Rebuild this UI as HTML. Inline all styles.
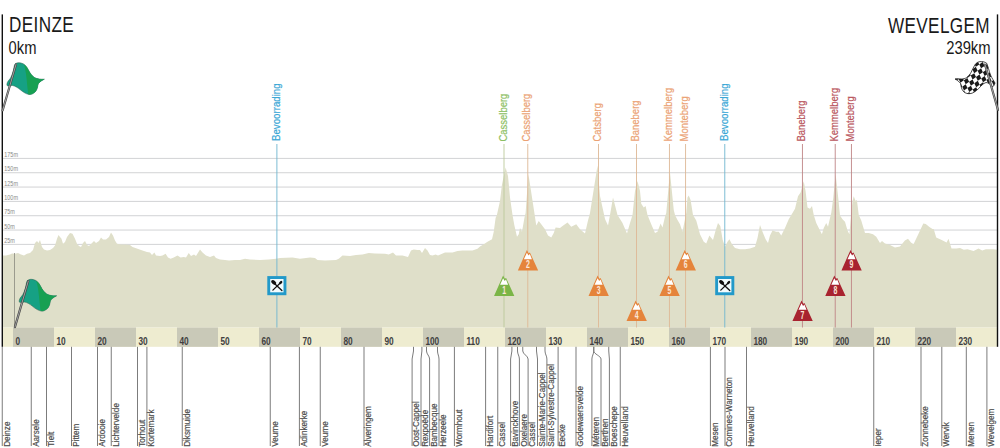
<!DOCTYPE html><html><head><meta charset="utf-8"><style>html,body{margin:0;padding:0;background:#fff;width:1000px;height:448px;overflow:hidden}svg{display:block}text{font-family:"Liberation Sans",sans-serif}</style></head><body>
<svg width="1000" height="448" viewBox="0 0 1000 448">
<rect width="1000" height="448" fill="#fff"/>
<rect x="3" y="157.9" width="994" height="1" fill="#d2d3d5"/>
<text transform="translate(4.3,157) scale(0.84,1)" font-size="6.5" fill="#8a8a8a">175m</text>
<rect x="3" y="172.23" width="994" height="1" fill="#d2d3d5"/>
<text transform="translate(4.3,171.33) scale(0.84,1)" font-size="6.5" fill="#8a8a8a">150m</text>
<rect x="3" y="186.56" width="994" height="1" fill="#d2d3d5"/>
<text transform="translate(4.3,185.66) scale(0.84,1)" font-size="6.5" fill="#8a8a8a">125m</text>
<rect x="3" y="200.89" width="994" height="1" fill="#d2d3d5"/>
<text transform="translate(4.3,199.99) scale(0.84,1)" font-size="6.5" fill="#8a8a8a">100m</text>
<rect x="3" y="215.22" width="994" height="1" fill="#d2d3d5"/>
<text transform="translate(4.3,214.32) scale(0.84,1)" font-size="6.5" fill="#8a8a8a">75m</text>
<rect x="3" y="229.55" width="994" height="1" fill="#d2d3d5"/>
<text transform="translate(4.3,228.65) scale(0.84,1)" font-size="6.5" fill="#8a8a8a">50m</text>
<rect x="3" y="243.88" width="994" height="1" fill="#d2d3d5"/>
<text transform="translate(4.3,242.98) scale(0.84,1)" font-size="6.5" fill="#8a8a8a">25m</text>
<polygon points="3,327.5 3,255.6 6,255.6 10,254.4 12,253.5 15,253.75 18,253 21,254.4 24,255.6 27,253.75 30,253 33,250 35,243 37,241 38.5,243 40,240 42,247 44,249.4 47,250.6 50,250 53,248 55,245.6 57,238.75 58.5,235 60,237 61.5,238.75 63,243.75 65,242 67,237 70,233 72.5,233.75 75,238.75 77,243.75 79,246 81,247 83,243 85,241 87,245 89,246 91,244 94,241 96,243 99,241 101,237.5 103,239.4 106,239.4 109,237 111,232.5 113,235.6 115,240.6 117,243.75 121,244.4 125,244.4 130,245 132.5,247 137.5,248.75 141,250 142.5,250.6 147,252 150,252.5 152,255 154.4,252.5 156,255.6 160,256 162.5,255.6 165.6,253.75 168,257.5 170.6,258.75 173.75,257.5 177.5,255.6 180.6,257.5 183.75,256.9 186,257.5 188.75,253 191,256 194,254.4 196,256 200,249.4 202.5,252.5 206,255.6 210,257 214,255.6 216,258 220,259.4 225,260 229,260.6 235,260 240,260 245,258.75 250,259.4 260,260 268.75,259.4 276,258.75 280,258 292.5,257.5 300,258.75 310,257.5 315,258 317.5,260 325,260.6 336,260 338.75,258.75 342.5,255.6 350,256 356,255 362.5,254.4 368.75,253 375,253.5 385,253.75 388.75,254.4 393,252.5 396,255.6 402.5,255.6 408,257 411,250.6 413.75,249.4 417.5,250 420,250 422,253 425,248 427.5,250.6 430,255 432.5,255.6 435.6,254.4 438,255.6 445,252.5 452.5,252.5 457.5,251 462.5,250.6 468.75,250.6 472.5,250.6 477.5,248.75 480,246.5 483.75,244.25 487.5,241.75 492,239.25 493.75,231.75 495.6,218 496.9,215 500,201 501.9,185 505.6,167.5 508,176 510,197.5 512.5,215 514.4,225.5 517,236.75 518.75,234.25 520,228 522,231.75 524.4,218 525.6,213 528.4,174 534.4,213 536.25,225.5 538.75,221 541.25,224.25 545,229.25 548,235.5 551.25,237.4 553.75,233 555.6,227.4 560,228 562.5,226 567.5,222.4 571.25,226.75 576.25,224.25 580,229.25 585,233.6 588,220.5 590,213 597.5,165.6 600,196 602.5,207.5 605,219 608,225.5 610,215 613,197.5 617.5,215 622.5,223 627,233.6 630,223 632.5,215 635,191 637.5,181 640,191 641.25,203.75 643.75,207.5 645.6,206 647.5,215 651.25,224.25 655,233 657.5,231.75 660.6,223.6 662.5,227.4 665,216.75 666.25,213 668.75,185 670,172.5 671.25,185 673.75,210 675,215 677.5,220 680,224.25 682.5,231.75 685,219 686.25,213 687.5,197.5 688.75,195.6 690.6,200 693,215 696.25,220.5 700,234.25 703.75,241.75 706.25,243.6 709.4,235.5 713,240 715.6,230.5 718,223 720.3,226 722.7,240 725,246.75 727.5,241.75 729.4,239.25 732,244.25 735,248 740,249.25 745,249.25 750,248.6 755,246.75 757.5,238 760,224.9 762.5,231.75 765.6,239.25 768,243 770,235.5 772.5,230.5 776.25,231.75 778.75,231.75 781.25,235.5 785,228 788.75,219.25 792.5,213 795,208.75 798,196.25 800.6,192.5 803.75,181.25 805.6,191.25 807.5,207.5 810,208.75 812,206 813.75,215 816.25,223 820,230.5 821.9,234.25 823.75,228 826.25,223 828,226.75 830,218 831.25,213 833.3,197.5 835.6,174 838.2,197.5 840,215.5 842.5,219.25 845,221.75 847.5,230.5 849.4,234.25 851.25,213 852.5,201 853.75,196.25 855.6,201 856.9,200 858.75,215 861.25,220.5 865,233 868.75,233 873,234.25 876.25,236.75 880,243 882,241 885,243.6 890,244.9 895,247.4 900,246.5 904.9,240.6 908,238.7 911,242.4 913.5,244.3 918.4,233.9 923.3,223.4 925.8,224 929.4,227.1 932.5,229 933.7,229 936.2,237.5 941.7,240 946.6,242.4 948.5,238.8 951.5,248.6 956.4,248.6 960,248 963.8,249.8 967.5,249.2 973.6,251 978.5,248.6 982.2,250.4 985.9,249.2 993.3,249.2 997,249.8 997,327.5" fill="#dfdfc9"/>
<rect x="3" y="327.5" width="994" height="19.3" fill="#eeecd0"/>
<rect x="13" y="327.5" width="41" height="19.3" fill="#c9c9b8"/>
<rect x="95" y="327.5" width="41" height="19.3" fill="#c9c9b8"/>
<rect x="177" y="327.5" width="41" height="19.3" fill="#c9c9b8"/>
<rect x="259" y="327.5" width="41" height="19.3" fill="#c9c9b8"/>
<rect x="341" y="327.5" width="41" height="19.3" fill="#c9c9b8"/>
<rect x="423" y="327.5" width="41" height="19.3" fill="#c9c9b8"/>
<rect x="505" y="327.5" width="41" height="19.3" fill="#c9c9b8"/>
<rect x="587" y="327.5" width="41" height="19.3" fill="#c9c9b8"/>
<rect x="669" y="327.5" width="41" height="19.3" fill="#c9c9b8"/>
<rect x="751" y="327.5" width="41" height="19.3" fill="#c9c9b8"/>
<rect x="833" y="327.5" width="41" height="19.3" fill="#c9c9b8"/>
<rect x="915" y="327.5" width="41" height="19.3" fill="#c9c9b8"/>
<text transform="translate(15.4,345) scale(0.74,1)" font-size="11.2" font-weight="bold" fill="#404040">0</text>
<text transform="translate(56.4,345) scale(0.74,1)" font-size="11.2" font-weight="bold" fill="#404040">10</text>
<text transform="translate(97.4,345) scale(0.74,1)" font-size="11.2" font-weight="bold" fill="#404040">20</text>
<text transform="translate(138.4,345) scale(0.74,1)" font-size="11.2" font-weight="bold" fill="#404040">30</text>
<text transform="translate(179.4,345) scale(0.74,1)" font-size="11.2" font-weight="bold" fill="#404040">40</text>
<text transform="translate(220.4,345) scale(0.74,1)" font-size="11.2" font-weight="bold" fill="#404040">50</text>
<text transform="translate(261.4,345) scale(0.74,1)" font-size="11.2" font-weight="bold" fill="#404040">60</text>
<text transform="translate(302.4,345) scale(0.74,1)" font-size="11.2" font-weight="bold" fill="#404040">70</text>
<text transform="translate(343.4,345) scale(0.74,1)" font-size="11.2" font-weight="bold" fill="#404040">80</text>
<text transform="translate(384.4,345) scale(0.74,1)" font-size="11.2" font-weight="bold" fill="#404040">90</text>
<text transform="translate(425.4,345) scale(0.74,1)" font-size="11.2" font-weight="bold" fill="#404040">100</text>
<text transform="translate(466.4,345) scale(0.74,1)" font-size="11.2" font-weight="bold" fill="#404040">110</text>
<text transform="translate(507.4,345) scale(0.74,1)" font-size="11.2" font-weight="bold" fill="#404040">120</text>
<text transform="translate(548.4,345) scale(0.74,1)" font-size="11.2" font-weight="bold" fill="#404040">130</text>
<text transform="translate(589.4,345) scale(0.74,1)" font-size="11.2" font-weight="bold" fill="#404040">140</text>
<text transform="translate(630.4,345) scale(0.74,1)" font-size="11.2" font-weight="bold" fill="#404040">150</text>
<text transform="translate(671.4,345) scale(0.74,1)" font-size="11.2" font-weight="bold" fill="#404040">160</text>
<text transform="translate(712.4,345) scale(0.74,1)" font-size="11.2" font-weight="bold" fill="#404040">170</text>
<text transform="translate(753.4,345) scale(0.74,1)" font-size="11.2" font-weight="bold" fill="#404040">180</text>
<text transform="translate(794.4,345) scale(0.74,1)" font-size="11.2" font-weight="bold" fill="#404040">190</text>
<text transform="translate(835.4,345) scale(0.74,1)" font-size="11.2" font-weight="bold" fill="#404040">200</text>
<text transform="translate(876.4,345) scale(0.74,1)" font-size="11.2" font-weight="bold" fill="#404040">210</text>
<text transform="translate(917.4,345) scale(0.74,1)" font-size="11.2" font-weight="bold" fill="#404040">220</text>
<text transform="translate(958.4,345) scale(0.74,1)" font-size="11.2" font-weight="bold" fill="#404040">230</text>
<rect x="14" y="253" width="0.8" height="74.5" fill="#8a8a80"/>
<rect x="276.45" y="144" width="0.9" height="183.5" fill="#6fb6d0"/>
<text transform="translate(279.9,141) rotate(-90) scale(0.95,1)" font-size="10.2" fill="#3aa7d6" stroke="#3aa7d6" stroke-width="0.2">Bevoorrading</text>
<rect x="724.35" y="144" width="0.9" height="183.5" fill="#6fb6d0"/>
<text transform="translate(727.8,141) rotate(-90) scale(0.95,1)" font-size="10.2" fill="#3aa7d6" stroke="#3aa7d6" stroke-width="0.2">Bevoorrading</text>
<rect x="503.55" y="144" width="0.9" height="183.5" fill="#bccb9c"/>
<text transform="translate(506.6,141.5) rotate(-90) scale(0.93,1)" font-size="10.2" stroke="#8cc063" stroke-width="0.2" fill="#8cc063">Casselberg</text>
<rect x="527.35" y="144" width="0.9" height="183.5" fill="#deb896"/>
<text transform="translate(530.4,141.5) rotate(-90) scale(0.93,1)" font-size="10.2" stroke="#eba273" stroke-width="0.2" fill="#eba273">Casselberg</text>
<rect x="598.05" y="144" width="0.9" height="183.5" fill="#deb896"/>
<text transform="translate(601.1,141.5) rotate(-90) scale(0.93,1)" font-size="10.2" stroke="#eba273" stroke-width="0.2" fill="#eba273">Catsberg</text>
<rect x="636.05" y="144" width="0.9" height="183.5" fill="#deb896"/>
<text transform="translate(639.1,141.5) rotate(-90) scale(0.93,1)" font-size="10.2" stroke="#eba273" stroke-width="0.2" fill="#eba273">Baneberg</text>
<rect x="668.95" y="144" width="0.9" height="183.5" fill="#deb896"/>
<text transform="translate(672,141.5) rotate(-90) scale(0.93,1)" font-size="10.2" stroke="#eba273" stroke-width="0.2" fill="#eba273">Kemmelberg</text>
<rect x="685.15" y="144" width="0.9" height="183.5" fill="#deb896"/>
<text transform="translate(688.2,141.5) rotate(-90) scale(0.93,1)" font-size="10.2" stroke="#eba273" stroke-width="0.2" fill="#eba273">Monteberg</text>
<rect x="801.95" y="144" width="0.9" height="183.5" fill="#bf8586"/>
<text transform="translate(805,141.5) rotate(-90) scale(0.93,1)" font-size="10.2" stroke="#b9545c" stroke-width="0.2" fill="#b9545c">Baneberg</text>
<rect x="834.75" y="144" width="0.9" height="183.5" fill="#bf8586"/>
<text transform="translate(837.8,141.5) rotate(-90) scale(0.93,1)" font-size="10.2" stroke="#b9545c" stroke-width="0.2" fill="#b9545c">Kemmelberg</text>
<rect x="850.95" y="144" width="0.9" height="183.5" fill="#bf8586"/>
<text transform="translate(854,141.5) rotate(-90) scale(0.93,1)" font-size="10.2" stroke="#b9545c" stroke-width="0.2" fill="#b9545c">Monteberg</text>
<polygon points="494.05,296 503.1,275.4 504.8,278.7 506.1,277.9 514.35,296" fill="#7bb547"/>
<polygon points="500.1,284.8 503.1,278.2 504.7,281 506,279.4 508.1,284.8" fill="#fff"/>
<text transform="translate(504.1,293.8) scale(0.62,1)" text-anchor="middle" font-size="11.2" font-weight="bold" fill="#fbe6d8">1</text>
<polygon points="517.85,270.5 526.9,249.9 528.6,253.2 529.9,252.4 538.15,270.5" fill="#e5843b"/>
<polygon points="523.9,259.3 526.9,252.7 528.5,255.5 529.8,253.9 531.9,259.3" fill="#fff"/>
<text transform="translate(527.9,268.3) scale(0.62,1)" text-anchor="middle" font-size="11.2" font-weight="bold" fill="#fbe6d8">2</text>
<polygon points="588.55,296 597.6,275.4 599.3,278.7 600.6,277.9 608.85,296" fill="#e5843b"/>
<polygon points="594.6,284.8 597.6,278.2 599.2,281 600.5,279.4 602.6,284.8" fill="#fff"/>
<text transform="translate(598.6,293.8) scale(0.62,1)" text-anchor="middle" font-size="11.2" font-weight="bold" fill="#fbe6d8">3</text>
<polygon points="626.55,321 635.6,300.4 637.3,303.7 638.6,302.9 646.85,321" fill="#e5843b"/>
<polygon points="632.6,309.8 635.6,303.2 637.2,306 638.5,304.4 640.6,309.8" fill="#fff"/>
<text transform="translate(636.6,318.8) scale(0.62,1)" text-anchor="middle" font-size="11.2" font-weight="bold" fill="#fbe6d8">4</text>
<polygon points="659.45,296 668.5,275.4 670.2,278.7 671.5,277.9 679.75,296" fill="#e5843b"/>
<polygon points="665.5,284.8 668.5,278.2 670.1,281 671.4,279.4 673.5,284.8" fill="#fff"/>
<text transform="translate(669.5,293.8) scale(0.62,1)" text-anchor="middle" font-size="11.2" font-weight="bold" fill="#fbe6d8">5</text>
<polygon points="675.65,270.5 684.7,249.9 686.4,253.2 687.7,252.4 695.95,270.5" fill="#e5843b"/>
<polygon points="681.7,259.3 684.7,252.7 686.3,255.5 687.6,253.9 689.7,259.3" fill="#fff"/>
<text transform="translate(685.7,268.3) scale(0.62,1)" text-anchor="middle" font-size="11.2" font-weight="bold" fill="#fbe6d8">6</text>
<polygon points="792.45,321 801.5,300.4 803.2,303.7 804.5,302.9 812.75,321" fill="#a8232f"/>
<polygon points="798.5,309.8 801.5,303.2 803.1,306 804.4,304.4 806.5,309.8" fill="#fff"/>
<text transform="translate(802.5,318.8) scale(0.62,1)" text-anchor="middle" font-size="11.2" font-weight="bold" fill="#fbe6d8">7</text>
<polygon points="825.25,296 834.3,275.4 836,278.7 837.3,277.9 845.55,296" fill="#a8232f"/>
<polygon points="831.3,284.8 834.3,278.2 835.9,281 837.2,279.4 839.3,284.8" fill="#fff"/>
<text transform="translate(835.3,293.8) scale(0.62,1)" text-anchor="middle" font-size="11.2" font-weight="bold" fill="#fbe6d8">8</text>
<polygon points="841.45,270.5 850.5,249.9 852.2,253.2 853.5,252.4 861.75,270.5" fill="#a8232f"/>
<polygon points="847.5,259.3 850.5,252.7 852.1,255.5 853.4,253.9 855.5,259.3" fill="#fff"/>
<text transform="translate(851.5,268.3) scale(0.62,1)" text-anchor="middle" font-size="11.2" font-weight="bold" fill="#fbe6d8">9</text>
<rect x="268.75" y="277.55" width="16.2" height="16.2" fill="#f2fbfd" stroke="#2299c9" stroke-width="2.9"/>
<g transform="translate(267.3,276.1)"><line x1="8.2" y1="8.4" x2="14.6" y2="14.4" stroke="#111" stroke-width="1.3" stroke-linecap="round"/><ellipse cx="6.4" cy="6.3" rx="2.9" ry="1.9" transform="rotate(40 6.4 6.3)" fill="#111"/><line x1="13.2" y1="6.6" x2="5.6" y2="14.0" stroke="#111" stroke-width="1.3" stroke-linecap="round"/><ellipse cx="13.4" cy="6.5" rx="2.0" ry="1.2" transform="rotate(-45 13.4 6.5)" fill="#111"/></g>
<rect x="716.65" y="277.55" width="16.2" height="16.2" fill="#f2fbfd" stroke="#2299c9" stroke-width="2.9"/>
<g transform="translate(715.2,276.1)"><line x1="8.2" y1="8.4" x2="14.6" y2="14.4" stroke="#111" stroke-width="1.3" stroke-linecap="round"/><ellipse cx="6.4" cy="6.3" rx="2.9" ry="1.9" transform="rotate(40 6.4 6.3)" fill="#111"/><line x1="13.2" y1="6.6" x2="5.6" y2="14.0" stroke="#111" stroke-width="1.3" stroke-linecap="round"/><ellipse cx="13.4" cy="6.5" rx="2.0" ry="1.2" transform="rotate(-45 13.4 6.5)" fill="#111"/></g>
<rect x="1.75" y="346.8" width="1" height="99.2" fill="#7c7c7c"/>
<text transform="translate(9.55,446.8) rotate(-90) scale(0.845,1)" font-size="9.6" fill="#4a4a4a" stroke="#4a4a4a" stroke-width="0.2">Deinze</text>
<rect x="30.75" y="346.8" width="1" height="99.2" fill="#7c7c7c"/>
<text transform="translate(38.55,446.8) rotate(-90) scale(0.845,1)" font-size="9.6" fill="#4a4a4a" stroke="#4a4a4a" stroke-width="0.2">Aarsele</text>
<rect x="46" y="346.8" width="1" height="99.2" fill="#7c7c7c"/>
<text transform="translate(53.8,446.8) rotate(-90) scale(0.845,1)" font-size="9.6" fill="#4a4a4a" stroke="#4a4a4a" stroke-width="0.2">Tielt</text>
<rect x="71" y="346.8" width="1" height="99.2" fill="#7c7c7c"/>
<text transform="translate(78.8,446.8) rotate(-90) scale(0.845,1)" font-size="9.6" fill="#4a4a4a" stroke="#4a4a4a" stroke-width="0.2">Pittem</text>
<rect x="97" y="346.8" width="1" height="99.2" fill="#7c7c7c"/>
<text transform="translate(104.8,446.8) rotate(-90) scale(0.845,1)" font-size="9.6" fill="#4a4a4a" stroke="#4a4a4a" stroke-width="0.2">Ardooie</text>
<rect x="110.75" y="346.8" width="1" height="99.2" fill="#7c7c7c"/>
<text transform="translate(118.55,446.8) rotate(-90) scale(0.845,1)" font-size="9.6" fill="#4a4a4a" stroke="#4a4a4a" stroke-width="0.2">Lichtervelde</text>
<rect x="137" y="346.8" width="1" height="99.2" fill="#7c7c7c"/>
<text transform="translate(144.8,446.8) rotate(-90) scale(0.845,1)" font-size="9.6" fill="#4a4a4a" stroke="#4a4a4a" stroke-width="0.2">Torhout</text>
<rect x="146.4" y="346.8" width="1" height="99.2" fill="#7c7c7c"/>
<text transform="translate(154.2,446.8) rotate(-90) scale(0.845,1)" font-size="9.6" fill="#4a4a4a" stroke="#4a4a4a" stroke-width="0.2">Kortemark</text>
<rect x="181.75" y="346.8" width="1" height="99.2" fill="#7c7c7c"/>
<text transform="translate(189.55,446.8) rotate(-90) scale(0.845,1)" font-size="9.6" fill="#4a4a4a" stroke="#4a4a4a" stroke-width="0.2">Diksmuide</text>
<rect x="269.75" y="346.8" width="1" height="99.2" fill="#7c7c7c"/>
<text transform="translate(277.55,446.8) rotate(-90) scale(0.845,1)" font-size="9.6" fill="#4a4a4a" stroke="#4a4a4a" stroke-width="0.2">Veurne</text>
<rect x="298.9" y="346.8" width="1" height="99.2" fill="#7c7c7c"/>
<text transform="translate(306.7,446.8) rotate(-90) scale(0.845,1)" font-size="9.6" fill="#4a4a4a" stroke="#4a4a4a" stroke-width="0.2">Adinkerke</text>
<rect x="319.75" y="346.8" width="1" height="99.2" fill="#7c7c7c"/>
<text transform="translate(327.55,446.8) rotate(-90) scale(0.845,1)" font-size="9.6" fill="#4a4a4a" stroke="#4a4a4a" stroke-width="0.2">Veurne</text>
<rect x="363.5" y="346.8" width="1" height="99.2" fill="#7c7c7c"/>
<text transform="translate(371.3,446.8) rotate(-90) scale(0.845,1)" font-size="9.6" fill="#4a4a4a" stroke="#4a4a4a" stroke-width="0.2">Alveringem</text>
<path d="M413.5,346.8 L413.5,351 C413.5,354 412.1,356 412.1,359 L412.1,446" fill="none" stroke="#7c7c7c" stroke-width="1"/>
<text transform="translate(419.4,446.8) rotate(-90) scale(0.845,1)" font-size="9.6" fill="#4a4a4a" stroke="#4a4a4a" stroke-width="0.2">Oost-Cappel</text>
<path d="M421.9,346.8 L421.9,351 C421.9,354 421,356 421,359 L421,446" fill="none" stroke="#7c7c7c" stroke-width="1"/>
<text transform="translate(428.3,446.8) rotate(-90) scale(0.845,1)" font-size="9.6" fill="#4a4a4a" stroke="#4a4a4a" stroke-width="0.2">Rexpoëde</text>
<path d="M426.5,346.8 L426.5,351 C426.5,354 429.6,356 429.6,359 L429.6,446" fill="none" stroke="#7c7c7c" stroke-width="1"/>
<text transform="translate(436.9,446.8) rotate(-90) scale(0.845,1)" font-size="9.6" fill="#4a4a4a" stroke="#4a4a4a" stroke-width="0.2">Bambecque</text>
<path d="M437.5,346.8 L437.5,351 C437.5,354 439,356 439,359 L439,446" fill="none" stroke="#7c7c7c" stroke-width="1"/>
<text transform="translate(446.3,446.8) rotate(-90) scale(0.845,1)" font-size="9.6" fill="#4a4a4a" stroke="#4a4a4a" stroke-width="0.2">Herzeele</text>
<rect x="453.9" y="346.8" width="1" height="99.2" fill="#7c7c7c"/>
<text transform="translate(461.7,446.8) rotate(-90) scale(0.845,1)" font-size="9.6" fill="#4a4a4a" stroke="#4a4a4a" stroke-width="0.2">Wormhout</text>
<rect x="485.1" y="346.8" width="1" height="99.2" fill="#7c7c7c"/>
<text transform="translate(492.9,446.8) rotate(-90) scale(0.845,1)" font-size="9.6" fill="#4a4a4a" stroke="#4a4a4a" stroke-width="0.2">Hardifort</text>
<rect x="497.25" y="346.8" width="1" height="99.2" fill="#7c7c7c"/>
<text transform="translate(505.05,446.8) rotate(-90) scale(0.845,1)" font-size="9.6" fill="#4a4a4a" stroke="#4a4a4a" stroke-width="0.2">Cassel</text>
<path d="M511.9,346.8 L511.9,351 C511.9,354 510.6,356 510.6,359 L510.6,446" fill="none" stroke="#7c7c7c" stroke-width="1"/>
<text transform="translate(517.9,446.8) rotate(-90) scale(0.845,1)" font-size="9.6" fill="#4a4a4a" stroke="#4a4a4a" stroke-width="0.2">Bavinckhove</text>
<path d="M517.5,346.8 L517.5,351 C517.5,354 519.4,356 519.4,359 L519.4,446" fill="none" stroke="#7c7c7c" stroke-width="1"/>
<text transform="translate(526.7,446.8) rotate(-90) scale(0.845,1)" font-size="9.6" fill="#4a4a4a" stroke="#4a4a4a" stroke-width="0.2">Oxelaere</text>
<path d="M522.75,346.8 L522.75,351 C522.75,354 528.1,356 528.1,359 L528.1,446" fill="none" stroke="#7c7c7c" stroke-width="1"/>
<text transform="translate(535.4,446.8) rotate(-90) scale(0.845,1)" font-size="9.6" fill="#4a4a4a" stroke="#4a4a4a" stroke-width="0.2">Cassel</text>
<path d="M536.5,346.8 L536.5,351 C536.5,354 537.5,356 537.5,359 L537.5,446" fill="none" stroke="#7c7c7c" stroke-width="1"/>
<text transform="translate(544.8,446.8) rotate(-90) scale(0.845,1)" font-size="9.6" fill="#4a4a4a" stroke="#4a4a4a" stroke-width="0.2">Sainte-Marie-Cappel</text>
<path d="M545,346.8 L545,351 C545,354 546.9,356 546.9,359 L546.9,446" fill="none" stroke="#7c7c7c" stroke-width="1"/>
<text transform="translate(554.2,446.8) rotate(-90) scale(0.845,1)" font-size="9.6" fill="#4a4a4a" stroke="#4a4a4a" stroke-width="0.2">Saint-Sylvestre-Cappel</text>
<rect x="557.6" y="346.8" width="1" height="99.2" fill="#7c7c7c"/>
<text transform="translate(565.4,446.8) rotate(-90) scale(0.845,1)" font-size="9.6" fill="#4a4a4a" stroke="#4a4a4a" stroke-width="0.2">Eecke</text>
<rect x="575.5" y="346.8" width="1" height="99.2" fill="#7c7c7c"/>
<text transform="translate(583.3,446.8) rotate(-90) scale(0.845,1)" font-size="9.6" fill="#4a4a4a" stroke="#4a4a4a" stroke-width="0.2">Godewaersvelde</text>
<path d="M593.75,346.8 L593.75,351 C593.75,354 591.9,356 591.9,359 L591.9,446" fill="none" stroke="#7c7c7c" stroke-width="1"/>
<text transform="translate(599.2,446.8) rotate(-90) scale(0.845,1)" font-size="9.6" fill="#4a4a4a" stroke="#4a4a4a" stroke-width="0.2">Méteren</text>
<path d="M593.75,346.8 L593.75,351 C593.75,354 601,356 601,359 L601,446" fill="none" stroke="#7c7c7c" stroke-width="1"/>
<text transform="translate(608.3,446.8) rotate(-90) scale(0.845,1)" font-size="9.6" fill="#4a4a4a" stroke="#4a4a4a" stroke-width="0.2">Berthen</text>
<path d="M608.75,346.8 L608.75,351 C608.75,354 609.4,356 609.4,359 L609.4,446" fill="none" stroke="#7c7c7c" stroke-width="1"/>
<text transform="translate(616.7,446.8) rotate(-90) scale(0.845,1)" font-size="9.6" fill="#4a4a4a" stroke="#4a4a4a" stroke-width="0.2">Boeschepe</text>
<rect x="619.75" y="346.8" width="1" height="99.2" fill="#7c7c7c"/>
<text transform="translate(627.55,446.8) rotate(-90) scale(0.845,1)" font-size="9.6" fill="#4a4a4a" stroke="#4a4a4a" stroke-width="0.2">Heuvelland</text>
<rect x="709.9" y="346.8" width="1" height="99.2" fill="#7c7c7c"/>
<text transform="translate(717.7,446.8) rotate(-90) scale(0.845,1)" font-size="9.6" fill="#4a4a4a" stroke="#4a4a4a" stroke-width="0.2">Mesen</text>
<rect x="724.5" y="346.8" width="1" height="99.2" fill="#7c7c7c"/>
<text transform="translate(732.3,446.8) rotate(-90) scale(0.845,1)" font-size="9.6" fill="#4a4a4a" stroke="#4a4a4a" stroke-width="0.2">Comines-Warneton</text>
<rect x="746" y="346.8" width="1" height="99.2" fill="#7c7c7c"/>
<text transform="translate(753.8,446.8) rotate(-90) scale(0.845,1)" font-size="9.6" fill="#4a4a4a" stroke="#4a4a4a" stroke-width="0.2">Heuvelland</text>
<rect x="873.25" y="346.8" width="1" height="99.2" fill="#7c7c7c"/>
<text transform="translate(881.05,446.8) rotate(-90) scale(0.845,1)" font-size="9.6" fill="#4a4a4a" stroke="#4a4a4a" stroke-width="0.2">Ieper</text>
<rect x="920.5" y="346.8" width="1" height="99.2" fill="#7c7c7c"/>
<text transform="translate(928.3,446.8) rotate(-90) scale(0.845,1)" font-size="9.6" fill="#4a4a4a" stroke="#4a4a4a" stroke-width="0.2">Zonnebeke</text>
<rect x="941.3" y="346.8" width="1" height="99.2" fill="#7c7c7c"/>
<text transform="translate(949.1,446.8) rotate(-90) scale(0.845,1)" font-size="9.6" fill="#4a4a4a" stroke="#4a4a4a" stroke-width="0.2">Wervik</text>
<rect x="965.8" y="346.8" width="1" height="99.2" fill="#7c7c7c"/>
<text transform="translate(973.6,446.8) rotate(-90) scale(0.845,1)" font-size="9.6" fill="#4a4a4a" stroke="#4a4a4a" stroke-width="0.2">Menen</text>
<rect x="986.4" y="346.8" width="1" height="99.2" fill="#7c7c7c"/>
<text transform="translate(994.2,446.8) rotate(-90) scale(0.845,1)" font-size="9.6" fill="#4a4a4a" stroke="#4a4a4a" stroke-width="0.2">Wevelgem</text>
<rect x="1.6" y="14.4" width="1.4" height="332.4" fill="#111"/>
<rect x="996.8" y="14.4" width="1.4" height="332.4" fill="#111"/>
<text transform="translate(9.0,32.1) scale(0.78,1)" letter-spacing="0.45" font-size="22" fill="#1a1a1a">DEINZE</text>
<text transform="translate(8.6,53.8) scale(0.82,1)" font-size="18" fill="#1a1a1a">0km</text>
<text transform="translate(989.9,32.6) scale(0.78,1)" text-anchor="end" letter-spacing="0.45" font-size="22" fill="#1a1a1a">WEVELGEM</text>
<text transform="translate(990.6,53.9) scale(0.80,1)" text-anchor="end" font-size="18.5" fill="#1a1a1a">239km</text>
<g transform="translate(0,0)"><clipPath id="gfc0"><path d="M15,64 C17,62.5 19,62.5 21,63 C24,63.5 26.5,66 28.5,70 C30,73 32,76 34.5,77.5 C37,79 40.5,79.3 44.4,79.2 C43,80 40.5,81 38.5,83.5 C37.5,85.5 38,88 36,91 C34,93.5 31.5,94.8 29,94.5 C26,94 23,92 20,89.5 C17.5,87.5 15,86 12.5,85.5 C10,85.5 8,86.5 7,85.5 C6.5,84 7.5,81.5 9,80 C11,78 12.5,74 13.5,70 C14,67 14.3,65 15,64 Z"/></clipPath><path d="M15,64 C17,62.5 19,62.5 21,63 C24,63.5 26.5,66 28.5,70 C30,73 32,76 34.5,77.5 C37,79 40.5,79.3 44.4,79.2 C43,80 40.5,81 38.5,83.5 C37.5,85.5 38,88 36,91 C34,93.5 31.5,94.8 29,94.5 C26,94 23,92 20,89.5 C17.5,87.5 15,86 12.5,85.5 C10,85.5 8,86.5 7,85.5 C6.5,84 7.5,81.5 9,80 C11,78 12.5,74 13.5,70 C14,67 14.3,65 15,64 Z" fill="#16a184" stroke="#2b5f4c" stroke-width="0.5"/><path d="M23,60 L50,60 L50,100 L29,100 C28,92 27,84 26.5,78 C26,72 24.5,66 23,60 Z" fill="#17a052" clip-path="url(#gfc0)"/><line x1="2.6" y1="110.5" x2="16" y2="64.5" stroke="#444" stroke-width="2.2" stroke-linecap="round"/><line x1="2.6" y1="110.5" x2="16" y2="64.5" stroke="#aaa" stroke-width="0.9" stroke-linecap="round"/></g>
<g transform="translate(12.3,216.6)"><clipPath id="gfc216"><path d="M15,64 C17,62.5 19,62.5 21,63 C24,63.5 26.5,66 28.5,70 C30,73 32,76 34.5,77.5 C37,79 40.5,79.3 44.4,79.2 C43,80 40.5,81 38.5,83.5 C37.5,85.5 38,88 36,91 C34,93.5 31.5,94.8 29,94.5 C26,94 23,92 20,89.5 C17.5,87.5 15,86 12.5,85.5 C10,85.5 8,86.5 7,85.5 C6.5,84 7.5,81.5 9,80 C11,78 12.5,74 13.5,70 C14,67 14.3,65 15,64 Z"/></clipPath><path d="M15,64 C17,62.5 19,62.5 21,63 C24,63.5 26.5,66 28.5,70 C30,73 32,76 34.5,77.5 C37,79 40.5,79.3 44.4,79.2 C43,80 40.5,81 38.5,83.5 C37.5,85.5 38,88 36,91 C34,93.5 31.5,94.8 29,94.5 C26,94 23,92 20,89.5 C17.5,87.5 15,86 12.5,85.5 C10,85.5 8,86.5 7,85.5 C6.5,84 7.5,81.5 9,80 C11,78 12.5,74 13.5,70 C14,67 14.3,65 15,64 Z" fill="#16a184" stroke="#2b5f4c" stroke-width="0.5"/><path d="M23,60 L50,60 L50,100 L29,100 C28,92 27,84 26.5,78 C26,72 24.5,66 23,60 Z" fill="#17a052" clip-path="url(#gfc216)"/><line x1="2.6" y1="110.5" x2="16" y2="64.5" stroke="#444" stroke-width="2.2" stroke-linecap="round"/><line x1="2.6" y1="110.5" x2="16" y2="64.5" stroke="#aaa" stroke-width="0.9" stroke-linecap="round"/></g>
<clipPath id="chk"><path d="M980,61.6 C982.5,61.5 985,62 986.5,63 C988,66 989,71 990.5,75 C992,78.5 994,81 995,83 C994.5,85 993.5,86.5 992.5,86.6 C990.5,84.5 988,82.5 986,82.5 C983,83.5 981,86 978.7,88.5 C976,91 973.5,93 971,93.5 C968,94 965.5,93.5 963.5,91.5 C961.5,89.5 961,86 960.6,83.5 C959,81.5 957,80 955,79 C957,78.5 959,79 961.2,79 C963.5,78.8 965,78.5 966.2,77.9 C968.5,76 970,74.5 971.2,72.2 C972.5,69.5 973.5,67 975,64.7 C976.5,62.8 978,61.8 980,61.6 Z"/></clipPath>
<path d="M980,61.6 C982.5,61.5 985,62 986.5,63 C988,66 989,71 990.5,75 C992,78.5 994,81 995,83 C994.5,85 993.5,86.5 992.5,86.6 C990.5,84.5 988,82.5 986,82.5 C983,83.5 981,86 978.7,88.5 C976,91 973.5,93 971,93.5 C968,94 965.5,93.5 963.5,91.5 C961.5,89.5 961,86 960.6,83.5 C959,81.5 957,80 955,79 C957,78.5 959,79 961.2,79 C963.5,78.8 965,78.5 966.2,77.9 C968.5,76 970,74.5 971.2,72.2 C972.5,69.5 973.5,67 975,64.7 C976.5,62.8 978,61.8 980,61.6 Z" fill="#fff" stroke="#222" stroke-width="0.8"/>
<g clip-path="url(#chk)"><g transform="translate(976,77) rotate(-35) skewX(-10)" fill="#1a1a1a"><rect x="-42" y="-42" width="4.2" height="4.2"/><rect x="-42" y="-33.6" width="4.2" height="4.2"/><rect x="-42" y="-25.2" width="4.2" height="4.2"/><rect x="-42" y="-16.8" width="4.2" height="4.2"/><rect x="-42" y="-8.4" width="4.2" height="4.2"/><rect x="-42" y="0" width="4.2" height="4.2"/><rect x="-42" y="8.4" width="4.2" height="4.2"/><rect x="-42" y="16.8" width="4.2" height="4.2"/><rect x="-42" y="25.2" width="4.2" height="4.2"/><rect x="-42" y="33.6" width="4.2" height="4.2"/><rect x="-42" y="42" width="4.2" height="4.2"/><rect x="-37.8" y="-37.8" width="4.2" height="4.2"/><rect x="-37.8" y="-29.4" width="4.2" height="4.2"/><rect x="-37.8" y="-21" width="4.2" height="4.2"/><rect x="-37.8" y="-12.6" width="4.2" height="4.2"/><rect x="-37.8" y="-4.2" width="4.2" height="4.2"/><rect x="-37.8" y="4.2" width="4.2" height="4.2"/><rect x="-37.8" y="12.6" width="4.2" height="4.2"/><rect x="-37.8" y="21" width="4.2" height="4.2"/><rect x="-37.8" y="29.4" width="4.2" height="4.2"/><rect x="-37.8" y="37.8" width="4.2" height="4.2"/><rect x="-37.8" y="46.2" width="4.2" height="4.2"/><rect x="-33.6" y="-42" width="4.2" height="4.2"/><rect x="-33.6" y="-33.6" width="4.2" height="4.2"/><rect x="-33.6" y="-25.2" width="4.2" height="4.2"/><rect x="-33.6" y="-16.8" width="4.2" height="4.2"/><rect x="-33.6" y="-8.4" width="4.2" height="4.2"/><rect x="-33.6" y="0" width="4.2" height="4.2"/><rect x="-33.6" y="8.4" width="4.2" height="4.2"/><rect x="-33.6" y="16.8" width="4.2" height="4.2"/><rect x="-33.6" y="25.2" width="4.2" height="4.2"/><rect x="-33.6" y="33.6" width="4.2" height="4.2"/><rect x="-33.6" y="42" width="4.2" height="4.2"/><rect x="-29.4" y="-37.8" width="4.2" height="4.2"/><rect x="-29.4" y="-29.4" width="4.2" height="4.2"/><rect x="-29.4" y="-21" width="4.2" height="4.2"/><rect x="-29.4" y="-12.6" width="4.2" height="4.2"/><rect x="-29.4" y="-4.2" width="4.2" height="4.2"/><rect x="-29.4" y="4.2" width="4.2" height="4.2"/><rect x="-29.4" y="12.6" width="4.2" height="4.2"/><rect x="-29.4" y="21" width="4.2" height="4.2"/><rect x="-29.4" y="29.4" width="4.2" height="4.2"/><rect x="-29.4" y="37.8" width="4.2" height="4.2"/><rect x="-29.4" y="46.2" width="4.2" height="4.2"/><rect x="-25.2" y="-42" width="4.2" height="4.2"/><rect x="-25.2" y="-33.6" width="4.2" height="4.2"/><rect x="-25.2" y="-25.2" width="4.2" height="4.2"/><rect x="-25.2" y="-16.8" width="4.2" height="4.2"/><rect x="-25.2" y="-8.4" width="4.2" height="4.2"/><rect x="-25.2" y="0" width="4.2" height="4.2"/><rect x="-25.2" y="8.4" width="4.2" height="4.2"/><rect x="-25.2" y="16.8" width="4.2" height="4.2"/><rect x="-25.2" y="25.2" width="4.2" height="4.2"/><rect x="-25.2" y="33.6" width="4.2" height="4.2"/><rect x="-25.2" y="42" width="4.2" height="4.2"/><rect x="-21" y="-37.8" width="4.2" height="4.2"/><rect x="-21" y="-29.4" width="4.2" height="4.2"/><rect x="-21" y="-21" width="4.2" height="4.2"/><rect x="-21" y="-12.6" width="4.2" height="4.2"/><rect x="-21" y="-4.2" width="4.2" height="4.2"/><rect x="-21" y="4.2" width="4.2" height="4.2"/><rect x="-21" y="12.6" width="4.2" height="4.2"/><rect x="-21" y="21" width="4.2" height="4.2"/><rect x="-21" y="29.4" width="4.2" height="4.2"/><rect x="-21" y="37.8" width="4.2" height="4.2"/><rect x="-21" y="46.2" width="4.2" height="4.2"/><rect x="-16.8" y="-42" width="4.2" height="4.2"/><rect x="-16.8" y="-33.6" width="4.2" height="4.2"/><rect x="-16.8" y="-25.2" width="4.2" height="4.2"/><rect x="-16.8" y="-16.8" width="4.2" height="4.2"/><rect x="-16.8" y="-8.4" width="4.2" height="4.2"/><rect x="-16.8" y="0" width="4.2" height="4.2"/><rect x="-16.8" y="8.4" width="4.2" height="4.2"/><rect x="-16.8" y="16.8" width="4.2" height="4.2"/><rect x="-16.8" y="25.2" width="4.2" height="4.2"/><rect x="-16.8" y="33.6" width="4.2" height="4.2"/><rect x="-16.8" y="42" width="4.2" height="4.2"/><rect x="-12.6" y="-37.8" width="4.2" height="4.2"/><rect x="-12.6" y="-29.4" width="4.2" height="4.2"/><rect x="-12.6" y="-21" width="4.2" height="4.2"/><rect x="-12.6" y="-12.6" width="4.2" height="4.2"/><rect x="-12.6" y="-4.2" width="4.2" height="4.2"/><rect x="-12.6" y="4.2" width="4.2" height="4.2"/><rect x="-12.6" y="12.6" width="4.2" height="4.2"/><rect x="-12.6" y="21" width="4.2" height="4.2"/><rect x="-12.6" y="29.4" width="4.2" height="4.2"/><rect x="-12.6" y="37.8" width="4.2" height="4.2"/><rect x="-12.6" y="46.2" width="4.2" height="4.2"/><rect x="-8.4" y="-42" width="4.2" height="4.2"/><rect x="-8.4" y="-33.6" width="4.2" height="4.2"/><rect x="-8.4" y="-25.2" width="4.2" height="4.2"/><rect x="-8.4" y="-16.8" width="4.2" height="4.2"/><rect x="-8.4" y="-8.4" width="4.2" height="4.2"/><rect x="-8.4" y="0" width="4.2" height="4.2"/><rect x="-8.4" y="8.4" width="4.2" height="4.2"/><rect x="-8.4" y="16.8" width="4.2" height="4.2"/><rect x="-8.4" y="25.2" width="4.2" height="4.2"/><rect x="-8.4" y="33.6" width="4.2" height="4.2"/><rect x="-8.4" y="42" width="4.2" height="4.2"/><rect x="-4.2" y="-37.8" width="4.2" height="4.2"/><rect x="-4.2" y="-29.4" width="4.2" height="4.2"/><rect x="-4.2" y="-21" width="4.2" height="4.2"/><rect x="-4.2" y="-12.6" width="4.2" height="4.2"/><rect x="-4.2" y="-4.2" width="4.2" height="4.2"/><rect x="-4.2" y="4.2" width="4.2" height="4.2"/><rect x="-4.2" y="12.6" width="4.2" height="4.2"/><rect x="-4.2" y="21" width="4.2" height="4.2"/><rect x="-4.2" y="29.4" width="4.2" height="4.2"/><rect x="-4.2" y="37.8" width="4.2" height="4.2"/><rect x="-4.2" y="46.2" width="4.2" height="4.2"/><rect x="0" y="-42" width="4.2" height="4.2"/><rect x="0" y="-33.6" width="4.2" height="4.2"/><rect x="0" y="-25.2" width="4.2" height="4.2"/><rect x="0" y="-16.8" width="4.2" height="4.2"/><rect x="0" y="-8.4" width="4.2" height="4.2"/><rect x="0" y="0" width="4.2" height="4.2"/><rect x="0" y="8.4" width="4.2" height="4.2"/><rect x="0" y="16.8" width="4.2" height="4.2"/><rect x="0" y="25.2" width="4.2" height="4.2"/><rect x="0" y="33.6" width="4.2" height="4.2"/><rect x="0" y="42" width="4.2" height="4.2"/><rect x="4.2" y="-37.8" width="4.2" height="4.2"/><rect x="4.2" y="-29.4" width="4.2" height="4.2"/><rect x="4.2" y="-21" width="4.2" height="4.2"/><rect x="4.2" y="-12.6" width="4.2" height="4.2"/><rect x="4.2" y="-4.2" width="4.2" height="4.2"/><rect x="4.2" y="4.2" width="4.2" height="4.2"/><rect x="4.2" y="12.6" width="4.2" height="4.2"/><rect x="4.2" y="21" width="4.2" height="4.2"/><rect x="4.2" y="29.4" width="4.2" height="4.2"/><rect x="4.2" y="37.8" width="4.2" height="4.2"/><rect x="4.2" y="46.2" width="4.2" height="4.2"/><rect x="8.4" y="-42" width="4.2" height="4.2"/><rect x="8.4" y="-33.6" width="4.2" height="4.2"/><rect x="8.4" y="-25.2" width="4.2" height="4.2"/><rect x="8.4" y="-16.8" width="4.2" height="4.2"/><rect x="8.4" y="-8.4" width="4.2" height="4.2"/><rect x="8.4" y="0" width="4.2" height="4.2"/><rect x="8.4" y="8.4" width="4.2" height="4.2"/><rect x="8.4" y="16.8" width="4.2" height="4.2"/><rect x="8.4" y="25.2" width="4.2" height="4.2"/><rect x="8.4" y="33.6" width="4.2" height="4.2"/><rect x="8.4" y="42" width="4.2" height="4.2"/><rect x="12.6" y="-37.8" width="4.2" height="4.2"/><rect x="12.6" y="-29.4" width="4.2" height="4.2"/><rect x="12.6" y="-21" width="4.2" height="4.2"/><rect x="12.6" y="-12.6" width="4.2" height="4.2"/><rect x="12.6" y="-4.2" width="4.2" height="4.2"/><rect x="12.6" y="4.2" width="4.2" height="4.2"/><rect x="12.6" y="12.6" width="4.2" height="4.2"/><rect x="12.6" y="21" width="4.2" height="4.2"/><rect x="12.6" y="29.4" width="4.2" height="4.2"/><rect x="12.6" y="37.8" width="4.2" height="4.2"/><rect x="12.6" y="46.2" width="4.2" height="4.2"/><rect x="16.8" y="-42" width="4.2" height="4.2"/><rect x="16.8" y="-33.6" width="4.2" height="4.2"/><rect x="16.8" y="-25.2" width="4.2" height="4.2"/><rect x="16.8" y="-16.8" width="4.2" height="4.2"/><rect x="16.8" y="-8.4" width="4.2" height="4.2"/><rect x="16.8" y="0" width="4.2" height="4.2"/><rect x="16.8" y="8.4" width="4.2" height="4.2"/><rect x="16.8" y="16.8" width="4.2" height="4.2"/><rect x="16.8" y="25.2" width="4.2" height="4.2"/><rect x="16.8" y="33.6" width="4.2" height="4.2"/><rect x="16.8" y="42" width="4.2" height="4.2"/><rect x="21" y="-37.8" width="4.2" height="4.2"/><rect x="21" y="-29.4" width="4.2" height="4.2"/><rect x="21" y="-21" width="4.2" height="4.2"/><rect x="21" y="-12.6" width="4.2" height="4.2"/><rect x="21" y="-4.2" width="4.2" height="4.2"/><rect x="21" y="4.2" width="4.2" height="4.2"/><rect x="21" y="12.6" width="4.2" height="4.2"/><rect x="21" y="21" width="4.2" height="4.2"/><rect x="21" y="29.4" width="4.2" height="4.2"/><rect x="21" y="37.8" width="4.2" height="4.2"/><rect x="21" y="46.2" width="4.2" height="4.2"/><rect x="25.2" y="-42" width="4.2" height="4.2"/><rect x="25.2" y="-33.6" width="4.2" height="4.2"/><rect x="25.2" y="-25.2" width="4.2" height="4.2"/><rect x="25.2" y="-16.8" width="4.2" height="4.2"/><rect x="25.2" y="-8.4" width="4.2" height="4.2"/><rect x="25.2" y="0" width="4.2" height="4.2"/><rect x="25.2" y="8.4" width="4.2" height="4.2"/><rect x="25.2" y="16.8" width="4.2" height="4.2"/><rect x="25.2" y="25.2" width="4.2" height="4.2"/><rect x="25.2" y="33.6" width="4.2" height="4.2"/><rect x="25.2" y="42" width="4.2" height="4.2"/><rect x="29.4" y="-37.8" width="4.2" height="4.2"/><rect x="29.4" y="-29.4" width="4.2" height="4.2"/><rect x="29.4" y="-21" width="4.2" height="4.2"/><rect x="29.4" y="-12.6" width="4.2" height="4.2"/><rect x="29.4" y="-4.2" width="4.2" height="4.2"/><rect x="29.4" y="4.2" width="4.2" height="4.2"/><rect x="29.4" y="12.6" width="4.2" height="4.2"/><rect x="29.4" y="21" width="4.2" height="4.2"/><rect x="29.4" y="29.4" width="4.2" height="4.2"/><rect x="29.4" y="37.8" width="4.2" height="4.2"/><rect x="29.4" y="46.2" width="4.2" height="4.2"/><rect x="33.6" y="-42" width="4.2" height="4.2"/><rect x="33.6" y="-33.6" width="4.2" height="4.2"/><rect x="33.6" y="-25.2" width="4.2" height="4.2"/><rect x="33.6" y="-16.8" width="4.2" height="4.2"/><rect x="33.6" y="-8.4" width="4.2" height="4.2"/><rect x="33.6" y="0" width="4.2" height="4.2"/><rect x="33.6" y="8.4" width="4.2" height="4.2"/><rect x="33.6" y="16.8" width="4.2" height="4.2"/><rect x="33.6" y="25.2" width="4.2" height="4.2"/><rect x="33.6" y="33.6" width="4.2" height="4.2"/><rect x="33.6" y="42" width="4.2" height="4.2"/><rect x="37.8" y="-37.8" width="4.2" height="4.2"/><rect x="37.8" y="-29.4" width="4.2" height="4.2"/><rect x="37.8" y="-21" width="4.2" height="4.2"/><rect x="37.8" y="-12.6" width="4.2" height="4.2"/><rect x="37.8" y="-4.2" width="4.2" height="4.2"/><rect x="37.8" y="4.2" width="4.2" height="4.2"/><rect x="37.8" y="12.6" width="4.2" height="4.2"/><rect x="37.8" y="21" width="4.2" height="4.2"/><rect x="37.8" y="29.4" width="4.2" height="4.2"/><rect x="37.8" y="37.8" width="4.2" height="4.2"/><rect x="37.8" y="46.2" width="4.2" height="4.2"/><rect x="42" y="-42" width="4.2" height="4.2"/><rect x="42" y="-33.6" width="4.2" height="4.2"/><rect x="42" y="-25.2" width="4.2" height="4.2"/><rect x="42" y="-16.8" width="4.2" height="4.2"/><rect x="42" y="-8.4" width="4.2" height="4.2"/><rect x="42" y="0" width="4.2" height="4.2"/><rect x="42" y="8.4" width="4.2" height="4.2"/><rect x="42" y="16.8" width="4.2" height="4.2"/><rect x="42" y="25.2" width="4.2" height="4.2"/><rect x="42" y="33.6" width="4.2" height="4.2"/><rect x="42" y="42" width="4.2" height="4.2"/><rect x="46.2" y="-37.8" width="4.2" height="4.2"/><rect x="46.2" y="-29.4" width="4.2" height="4.2"/><rect x="46.2" y="-21" width="4.2" height="4.2"/><rect x="46.2" y="-12.6" width="4.2" height="4.2"/><rect x="46.2" y="-4.2" width="4.2" height="4.2"/><rect x="46.2" y="4.2" width="4.2" height="4.2"/><rect x="46.2" y="12.6" width="4.2" height="4.2"/><rect x="46.2" y="21" width="4.2" height="4.2"/><rect x="46.2" y="29.4" width="4.2" height="4.2"/><rect x="46.2" y="37.8" width="4.2" height="4.2"/><rect x="46.2" y="46.2" width="4.2" height="4.2"/></g></g>
<line x1="985" y1="64.5" x2="998" y2="110" stroke="#444" stroke-width="2.2" stroke-linecap="round"/>
<line x1="985" y1="64.5" x2="998" y2="110" stroke="#aaa" stroke-width="0.9" stroke-linecap="round"/>
</svg></body></html>
